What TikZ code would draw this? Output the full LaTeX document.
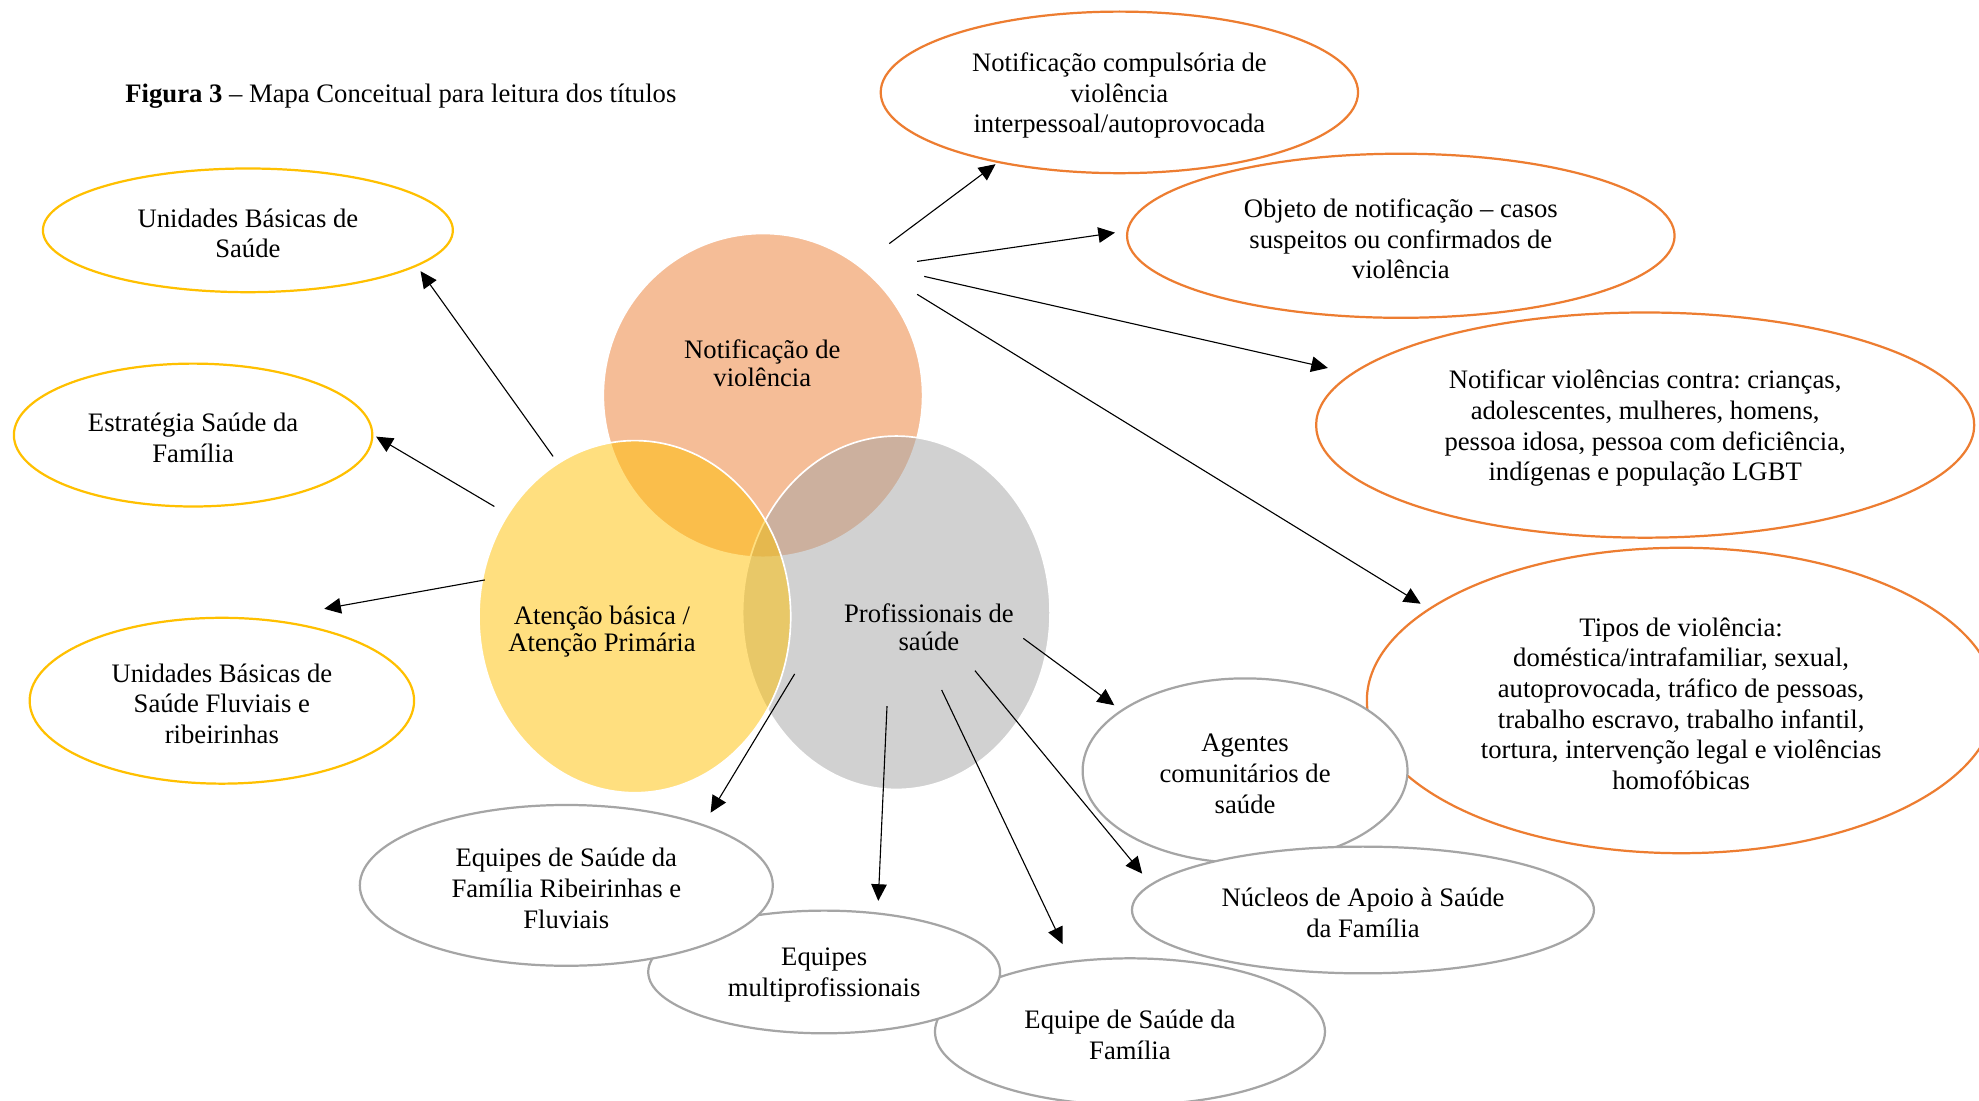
\documentclass[tikz,border=0pt]{standalone}
\usepackage{fontspec}
\setmainfont{Liberation Serif}
\usetikzlibrary{shapes.geometric,arrows.meta}
\frenchspacing

\definecolor{accOrange}{HTML}{ED7D31}
\definecolor{accGold}{HTML}{FFC000}
\definecolor{accGray}{HTML}{A5A5A5}

\begin{document}
\begin{tikzpicture}[x=0.568pt,y=-0.568pt,
  ovalsize/.style 2 args={minimum width=#1*1.136pt, minimum height=#2*1.136pt},
  bubble/.style={ellipse, draw, line width=1pt, fill=white, inner sep=0pt},
  orangebubble/.style={bubble, draw=accOrange},
  goldbubble/.style={bubble, draw=accGold},
  graybubble/.style={bubble, draw=accGray},
  bubbletext/.style={align=center, inner sep=0pt, yshift=-1.4pt,
    font=\fontsize{12pt}{13.8pt}\selectfont},
  venn/.style={ellipse, draw=white, line width=0.75pt, fill opacity=0.5, inner sep=0pt},
  vennlabel/.style={align=center, font=\fontsize{12pt}{12.4pt}\selectfont},
  link/.style={draw=black, line width=0.5pt, -{Triangle[length=7.5pt,width=7pt]}}
]

% page
\fill[white] (0,0) rectangle (1568,872);
\useasboundingbox (0,0) rectangle (1568,872);

% caption
\node[anchor=base west, font=\fontsize{12pt}{14pt}\selectfont, inner sep=0pt] (title) at (99,81.5)
  {\textbf{Figura 3} – Mapa Conceitual para leitura dos títulos};

% three-set Venn core
\node[venn, fill=accOrange, ovalsize={126.5}{128.3}] (vA) at (604.5,313.3) {};
\node[venn, fill=accGray,   ovalsize={121.8}{140}]   (vC) at (710.2,485.5) {};
\node[venn, fill=accGold,   ovalsize={123.5}{139.5}] (vB) at (503,488.6) {};

\node[vennlabel] (tA) at (604,288) {Notificação de\\violência};
\node[vennlabel] (tB) at (477,500.5) {Atenção básica /\\Atenção Primária};
\node[vennlabel] (tC) at (736,497) {Profissionais de\\saúde};

% notification branch
\node[orangebubble, ovalsize={189.1}{64}] (comp) at (886.9,73.2) {};
\node[bubbletext] (compT) at (comp)
  {Notificação compulsória de\\violência\\interpessoal/autoprovocada};
\node[orangebubble, ovalsize={216.9}{65}] (obj) at (1109.9,186.8) {};
\node[bubbletext] (objT) at (obj)
  {Objeto de notificação – casos\\suspeitos ou confirmados de\\violência};
\node[orangebubble, ovalsize={260.7}{89.2}] (notif) at (1303.5,336.8) {};
\node[bubbletext] (notifT) at (notif)
  {Notificar violências contra: crianças,\\adolescentes, mulheres, homens,\\pessoa idosa, pessoa com deficiência,\\indígenas e população LGBT};
\node[orangebubble, ovalsize={249}{121}] (tipos) at (1332,555) {};
\node[bubbletext] (tiposT) at (tipos)
  {Tipos de violência:\\doméstica/intrafamiliar, sexual,\\autoprovocada, tráfico de pessoas,\\trabalho escravo, trabalho infantil,\\tortura, intervenção legal e violências\\homofóbicas};

% professionals branch
\node[graybubble, ovalsize={128.7}{73.1}] (agentes) at (986.5,610.6) {};
\node[bubbletext] (agentesT) at (agentes) {Agentes\\comunitários de\\saúde};
\node[graybubble, ovalsize={183}{50.2}] (nucleos) at (1079.9,721) {};
\node[bubbletext] (nucleosT) at (nucleos) {Núcleos de Apoio à Saúde\\da Família};
\node[graybubble, ovalsize={154.5}{58.1}] (esf) at (895.3,817.4) {};
\node[bubbletext] (esfT) at (esf) {Equipe de Saúde da\\Família};
\node[graybubble, ovalsize={139.4}{48.6}] (multi) at (653,770.1) {};
\node[bubbletext] (multiT) at (multi) {Equipes\\multiprofissionais};
\node[graybubble, ovalsize={163.6}{63.7}] (rib) at (448.7,701.5) {};
\node[bubbletext] (ribT) at (rib) {Equipes de Saúde da\\Família Ribeirinhas e\\Fluviais};

% primary care branch
\node[goldbubble, ovalsize={162.4}{49}] (ubs) at (196.4,182.5) {};
\node[bubbletext] (ubsT) at (ubs) {Unidades Básicas de\\Saúde};
\node[goldbubble, ovalsize={142}{56.6}] (est) at (153,344.7) {};
\node[bubbletext] (estT) at (est) {Estratégia Saúde da\\Família};
\node[goldbubble, ovalsize={152.3}{65.7}] (ubsf) at (175.8,555.2) {};
\node[bubbletext] (ubsfT) at (ubsf) {Unidades Básicas de\\Saúde Fluviais e\\ribeirinhas};

% arrow origins inside the Venn sets
\coordinate (s1)  at (704.6,193.0);
\coordinate (s2)  at (726.7,207.1);
\coordinate (s3)  at (732.3,219.0);
\coordinate (s4)  at (726.7,233.2);
\coordinate (s5)  at (438.2,361.6);
\coordinate (s6)  at (391.7,401.3);
\coordinate (s7)  at (384.1,459.5);
\coordinate (s8)  at (629.6,534.0);
\coordinate (s9)  at (702.8,559.4);
\coordinate (s10) at (746.1,546.7);
\coordinate (s11) at (772.5,531.4);
\coordinate (s12) at (810.8,505.8);

% connectors
\draw[link, shorten >=1pt]    (s1)  -- (comp.210.7);
\draw[link, shorten >=5.2pt]  (s2)  -- (obj.179.2);
\draw[link, shorten >=10.8pt] (s3)  -- (notif.170.3);
\draw[link, shorten >=4.1pt]  (s4)  -- (tipos.160.8);
\draw[link, shorten >=2.7pt]  (s5)  -- (ubs.348.6);
\draw[link, shorten >=1.4pt]  (s6)  -- (est.0.5);
\draw[link, shorten >=26.1pt] (s7)  -- (ubsf.61.2);
\draw[link, shorten >=6.1pt]  (s8)  -- (rib.24);
\draw[link, shorten >=5.2pt]  (s9)  -- (multi.48.9);
\draw[link, shorten >=8.3pt]  (s10) -- (esf.130);
\draw[link, shorten >=6pt]    (s11) -- (nucleos.173.7);
\draw[link, shorten >=3.6pt]  (s12) -- (agentes.154.2);

\end{tikzpicture}
\end{document}
